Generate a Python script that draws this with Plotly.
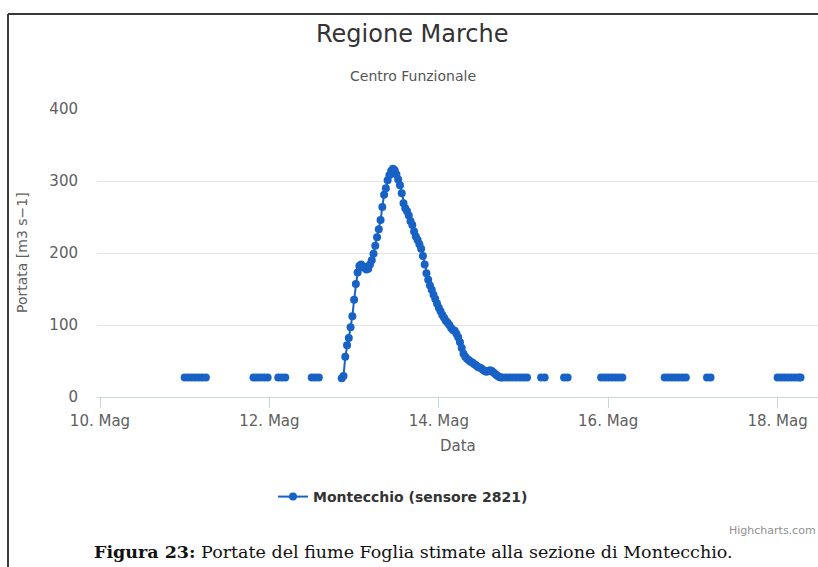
import plotly.graph_objects as go

# ---------------- data ----------------
times = [
    # 11 May (flat)
    "2014-05-11 00:00", "2014-05-11 01:00", "2014-05-11 02:00", "2014-05-11 03:00",
    "2014-05-11 04:00", "2014-05-11 05:00", "2014-05-11 06:00",
    "2014-05-11 12:00",
    "2014-05-11 19:30", "2014-05-11 20:30", "2014-05-11 21:30", "2014-05-11 22:30", "2014-05-11 23:30",
    "2014-05-12 01:00",
    "2014-05-12 02:30", "2014-05-12 03:30", "2014-05-12 04:30",
    "2014-05-12 08:00",
    "2014-05-12 12:00", "2014-05-12 13:00", "2014-05-12 14:00",
    "2014-05-12 17:00",
    # flood event (30 min)
    "2014-05-12 20:30", "2014-05-12 21:00", "2014-05-12 21:30", "2014-05-12 22:00",
    "2014-05-12 22:30", "2014-05-12 23:00", "2014-05-12 23:30",
    "2014-05-13 00:00", "2014-05-13 00:30", "2014-05-13 01:00", "2014-05-13 01:30",
    "2014-05-13 02:00", "2014-05-13 02:30", "2014-05-13 03:00", "2014-05-13 03:30",
    "2014-05-13 04:00", "2014-05-13 04:30", "2014-05-13 05:00", "2014-05-13 05:30",
    "2014-05-13 06:00", "2014-05-13 06:30", "2014-05-13 07:00", "2014-05-13 07:30",
    "2014-05-13 08:00", "2014-05-13 08:30", "2014-05-13 09:00", "2014-05-13 09:30",
    "2014-05-13 10:00", "2014-05-13 10:30", "2014-05-13 11:00", "2014-05-13 11:30",
    "2014-05-13 12:00", "2014-05-13 12:30", "2014-05-13 13:00", "2014-05-13 13:30",
    "2014-05-13 14:00", "2014-05-13 14:30", "2014-05-13 15:00", "2014-05-13 15:30",
    "2014-05-13 16:00", "2014-05-13 16:30", "2014-05-13 17:00", "2014-05-13 17:30",
    "2014-05-13 18:00", "2014-05-13 18:30", "2014-05-13 19:00", "2014-05-13 19:30",
    "2014-05-13 20:00", "2014-05-13 20:30", "2014-05-13 21:00", "2014-05-13 21:30",
    "2014-05-13 22:00", "2014-05-13 22:30", "2014-05-13 23:00", "2014-05-13 23:30",
    "2014-05-14 00:00", "2014-05-14 00:30", "2014-05-14 01:00", "2014-05-14 01:30",
    "2014-05-14 02:00", "2014-05-14 02:30", "2014-05-14 03:00", "2014-05-14 03:30",
    "2014-05-14 04:00", "2014-05-14 04:30", "2014-05-14 05:00", "2014-05-14 05:30",
    "2014-05-14 06:00", "2014-05-14 06:30", "2014-05-14 07:00", "2014-05-14 07:30",
    "2014-05-14 08:00", "2014-05-14 08:30", "2014-05-14 09:00", "2014-05-14 09:30",
    "2014-05-14 10:00", "2014-05-14 10:30", "2014-05-14 11:00", "2014-05-14 11:30",
    "2014-05-14 12:00", "2014-05-14 12:30", "2014-05-14 13:00", "2014-05-14 13:30",
    "2014-05-14 14:00", "2014-05-14 14:30", "2014-05-14 15:00", "2014-05-14 15:30",
    "2014-05-14 16:00", "2014-05-14 16:30", "2014-05-14 17:00", "2014-05-14 17:30",
    "2014-05-14 18:00", "2014-05-14 19:00", "2014-05-14 20:00", "2014-05-14 21:00",
    "2014-05-14 22:00", "2014-05-14 23:00", "2014-05-15 00:00", "2014-05-15 01:00",
    "2014-05-15 03:00",
    "2014-05-15 05:00", "2014-05-15 06:00",
    "2014-05-15 09:00",
    "2014-05-15 11:30", "2014-05-15 12:30",
    "2014-05-15 17:00",
    "2014-05-15 22:00", "2014-05-15 23:00", "2014-05-16 00:00", "2014-05-16 01:00",
    "2014-05-16 02:00", "2014-05-16 03:00", "2014-05-16 04:00",
    "2014-05-16 10:00",
    "2014-05-16 16:00", "2014-05-16 17:00", "2014-05-16 18:00", "2014-05-16 19:00",
    "2014-05-16 20:00", "2014-05-16 21:00", "2014-05-16 22:00",
    "2014-05-17 01:00",
    "2014-05-17 04:00", "2014-05-17 05:00",
    "2014-05-17 14:00",
    "2014-05-18 00:00", "2014-05-18 01:00", "2014-05-18 02:00", "2014-05-18 03:00",
    "2014-05-18 04:00", "2014-05-18 05:00", "2014-05-18 06:00", "2014-05-18 06:30",
]

flow = [
    27, 27, 27, 27, 27, 27, 27,
    None,
    27, 27, 27, 27, 27,
    None,
    27, 27, 27,
    None,
    27, 27, 27,
    None,
    26, 29, 56, 72, 82, 97, 112,
    135, 157, 173, 182, 184, 180, 181, 177,
    178, 184, 190, 199, 210, 222, 233, 246,
    264, 281, 290, 301, 308, 314, 317, 315,
    309, 302, 294, 283, 269, 262, 258, 252,
    244, 239, 230, 223, 218, 212, 206, 196,
    184, 172, 163, 155, 149, 142, 136, 130,
    124, 119, 114, 110, 106, 103, 100, 96,
    93, 92, 88, 83, 76, 68, 60, 56,
    53, 51, 49, 48, 46, 44, 42, 41,
    40, 38, 36, 35, 36, 37, 36, 34,
    32, 30, 28, 27, 27, 27, 27, 27,
    27, 27, 27, 27,
    None,
    27, 27,
    None,
    27, 27,
    None,
    27, 27, 27, 27, 27, 27, 27,
    None,
    27, 27, 27, 27, 27, 27, 27,
    None,
    27, 27,
    None,
    27, 27, 27, 27, 27, 27, 27, 27,
]

series_name = "Montecchio (sensore 2821)"
x_tick_vals = ["2014-05-10", "2014-05-12", "2014-05-14", "2014-05-16", "2014-05-18"]
x_tick_text = ["10. Mag", "12. Mag", "14. Mag", "16. Mag", "18. Mag"]
y_tick_vals = [0, 100, 200, 300, 400]

# ---------------- layout helpers (pixel -> paper) ----------------
W, H = 818, 567
PL, PR, PT, PB = 97, 818, 109, 397   # plot area in pixels


def px(x):
    return (x - PL) / (PR - PL)


def py(y):
    return (PB - y) / (PB - PT)


BLUE = "#1862c6"
FONT = "DejaVu Sans, Verdana, sans-serif"

fig = go.Figure()
fig.add_trace(go.Scatter(
    x=times, y=flow, mode="lines+markers", name="<b>" + series_name + "</b>",
    connectgaps=False,
    line=dict(color=BLUE, width=2),
    marker=dict(color=BLUE, size=8, symbol="circle"),
))

fig.update_layout(
    width=W, height=H,
    margin=dict(l=PL, r=W - PR, t=PT, b=H - PB),
    paper_bgcolor="white", plot_bgcolor="white",
    font=dict(family=FONT, color="#606060"),
    showlegend=True,
    legend=dict(
        x=px(273), y=py(497), xanchor="left", yanchor="middle",
        orientation="h", itemwidth=30,
        font=dict(family=FONT, size=14, color="#333333"),
        bgcolor="rgba(0,0,0,0)",
    ),
    xaxis=dict(
        type="date",
        range=["2014-05-09 23:09", "2014-05-18 11:27"],
        tickvals=x_tick_vals, ticktext=x_tick_text,
        showgrid=False, zeroline=False,
        showline=True, linecolor="#c8d4e0", linewidth=1,
        ticks="outside", ticklen=10, tickcolor="#c8d4e0", tickwidth=1,
        tickfont=dict(size=15, color="#606060"),
        fixedrange=True,
    ),
    yaxis=dict(
        range=[0, 400], tickvals=y_tick_vals,
        showgrid=True, gridcolor="#e4e4e4", gridwidth=1,
        zeroline=False, showline=False,
        ticks="", ticklabelstandoff=18,
        tickfont=dict(size=15, color="#606060"),
        fixedrange=True,
    ),
)

annotations = [
    dict(text="Regione Marche", x=px(412), y=py(34), font=dict(size=24, color="#333333", family=FONT)),
    dict(text="Centro Funzionale", x=px(413), y=py(76), font=dict(size=14, color="#555555", family=FONT)),
    dict(text="Data", x=px(458), y=py(446), font=dict(size=15, color="#606060", family=FONT)),
    dict(text="Portata [m3 s\u22121]", x=px(22), y=py(253), textangle=-90,
         font=dict(size=14, color="#606060", family=FONT)),
    dict(text="Highcharts.com", x=px(818), y=py(530), xanchor="right",
         font=dict(size=11, color="#909090", family=FONT)),
    dict(text="<b>Figura 23:</b> Portate del fiume Foglia stimate alla sezione di Montecchio.",
         x=px(413), y=py(552), font=dict(size=17.5, color="#111111", family="DejaVu Serif, Liberation Serif, serif")),
]
for a in annotations:
    a.update(xref="paper", yref="paper", showarrow=False)
    a.setdefault("xanchor", "center")
    a.setdefault("yanchor", "middle")
fig.update_layout(annotations=annotations)

# page frame lines (top and left border of the figure box)
fig.add_shape(type="line", xref="paper", yref="paper",
              x0=px(8), x1=px(818), y0=py(14), y1=py(14),
              line=dict(color="#3a3a3a", width=2))
fig.add_shape(type="line", xref="paper", yref="paper",
              x0=px(8), x1=px(8), y0=py(14), y1=py(567),
              line=dict(color="#3a3a3a", width=2))

fig.write_html(
    "out.html",
    config={"displayModeBar": False},
    post_script="document.body.style.margin='0px';document.body.style.overflow='hidden';",
)
